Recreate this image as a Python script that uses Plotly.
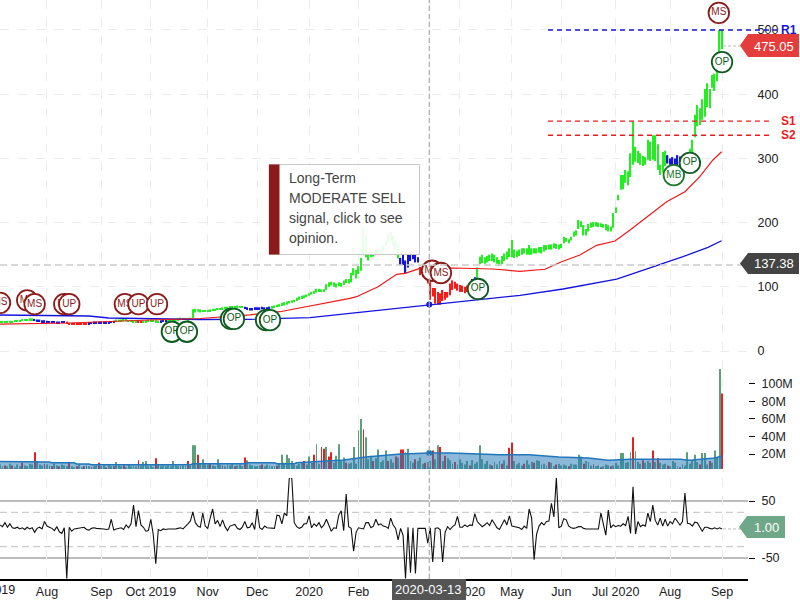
import plotly.graph_objects as go

# ---------- data ----------
hi = [46,46,46,47,47,47,48,48,48,49,49,50,51,51,50,49,49,48,48,
      47,46,46,46,46,46,46,46,46,44,44,44,44,44,44,44,44,45,45,46,46,46,
      46,46,46,46,46,47,49,49,49,49,49,48,48,48,48,48,47,47,48,49,
      49,48,48,47,48,49,49,50,50,50,50,51,52,51,51,51,52,65,66,65,65,64,64,
      64,65,66,66,67,67,68,69,69,70,70,70,71,70,70,69,68,67,67,68,
      68,68,69,68,68,69,70,71,72,73,75,76,77,78,79,80,83,85,86,87,88,
      90,92,94,97,97,96,96,104,107,108,107,105,107,106,110,112,112,122,129,126,132,
      145,192,180,152,150,152,158,158,158,164,172,183,186,180,172,165,145,150,141,
      150,152,150,150,146,131,128,126,122,108,98,98,92,90,95,92,92,105,110,108,105,103,
      102,100,102,105,112,115,130,147,150,146,148,150,152,150,146,142,148,152,155,160,173,
      158,156,158,160,160,160,165,160,160,160,162,162,165,165,166,166,168,167,166,167,
      178,176,174,178,186,188,204,202,196,190,198,200,201,201,200,199,198,198,196,194,215,224,
      243,274,274,282,280,308,358,318,312,308,304,302,329,326,336,336,322,290,310,312,305,300,
      302,300,305,303,303,303,308,315,329,368,383,378,392,408,417,408,430,432,447,500,500]
lo = [44,44,44,45,45,45,46,46,46,47,47,48,48,48,47,46,46,45,45,
      44,44,44,44,43,43,44,44,43,41,41,41,41,41,41,41,42,42,43,43,43,43,
      43,43,43,43,44,45,46,46,46,47,47,46,46,45,45,45,44,45,45,46,
      46,46,45,45,45,46,46,47,47,47,47,48,49,49,49,48,49,51,60,61,60,61,61,
      61,62,63,63,64,64,65,66,66,67,67,67,68,67,67,66,64,63,63,64,
      64,64,65,64,65,65,66,67,68,69,70,71,72,74,75,76,78,80,81,82,84,
      86,88,89,91,92,92,92,95,100,102,100,99,101,100,103,106,105,107,118,113,120,
      125,150,146,141,146,147,150,150,152,155,164,169,172,165,158,144,134,134,121,
      130,140,143,138,138,118,115,112,105,80,85,74,72,72,78,80,83,87,95,97,94,92,
      92,90,92,96,100,104,112,135,137,136,138,140,140,138,136,133,135,140,143,146,146,
      145,146,148,150,152,150,150,150,152,152,153,152,155,157,158,158,160,159,158,160,
      168,170,168,172,178,180,190,193,180,180,186,192,193,194,193,193,192,188,186,186,192,215,
      235,251,252,262,258,271,290,295,293,290,288,290,298,296,298,296,282,274,278,288,292,290,
      288,285,288,290,285,292,293,296,300,333,350,352,360,365,380,378,410,405,420,440,470]
blue_spans = [(14,26),(36,46),(65,67),(99,109),(162,169),(190,192),(270,276)]
red_spans = [(27,35),(56,57),(170,189)]

ma_long_idx = [0,14,36,44,63,81,101,125.4,141.5,169.8,174.7,194.1,210.3,227.7,249.4,257.5,268.1,276.2,286.3,291.8]
ma_long = [56.1,55.3,54.5,51.4,49.8,49.1,49.4,51.9,58.7,70.1,72.4,79.4,86.8,96.6,112.1,122.6,136.6,146.9,161.5,171.8]
ma_mid_idx = [0,28,61,81,101.1,113.2,141.5,144.2,152.9,160.4,163.8,169.8,183.2,199.4,210.3,220.4,227.1,234.5,241.3,248.7,254.8,264.2,269.6,277,283,288.3,291.8]
ma_mid = [42,43.6,48.3,50.6,56.4,61.2,82.1,84.6,100.1,119.4,121,128.8,129.3,127.7,124.1,127.3,139.1,149.5,164.6,171.3,188.5,217,232.6,248.1,271.5,297.5,310.4]

volume = [8,6,7,6,9,7,5,8,6,10,7,6,9,8,22,12,8,7,9,
          8,7,6,9,7,6,8,7,6,10,6,5,6,8,5,6,7,6,5,6,7,10,
          6,7,5,8,6,6,11,7,6,7,5,8,6,7,6,13,7,11,12,6,
          7,5,15,8,6,7,6,7,6,12,7,6,6,7,6,12,7,30,30,19,9,14,8,
          8,9,7,6,14,8,7,6,8,7,9,6,7,8,6,16,13,8,7,6,
          6,7,8,6,8,7,6,6,7,9,19,10,19,15,12,8,7,9,10,12,8,
          17,10,19,31,9,28,26,28,17,22,10,18,31,12,16,10,9,10,28,9,47,
          60,48,39,14,18,12,15,25,11,13,24,12,14,10,17,16,25,25,22,
          26,12,10,14,12,16,9,10,11,12,24,14,30,28,12,18,15,13,9,11,8,14,
          10,8,12,7,13,9,11,30,14,9,12,8,7,11,8,12,9,13,7,27,33,
          12,8,10,7,9,13,8,11,10,13,12,8,9,7,11,10,6,8,9,7,
          8,7,6,9,8,8,19,17,9,12,11,7,8,6,7,5,6,8,7,6,7,10,
          7,21,21,10,11,22,39,23,11,9,13,10,12,10,24,11,15,10,8,9,7,6,
          12,10,6,5,8,7,22,9,13,19,11,8,21,21,8,12,10,24,16,117,89]
volume_red_idx = [2,5,9,14,18,21,24,28,31,34,37,40,43,46,50,56,63,76,80,85,90,95,99,
                  106,112,123,127,130,131,133,134,140,147,151,157,160,162,163,168,172,175,178,180,
                  184,190,199,203,206,207,212,216,222,225,230,236,240,243,247,256,260,264,266,270,
                  275,283,287,292]
vol_ma_idx = [0,5,6,20,21,30,31,36,37,77,78,99,100,111,112,119,120,129,139,148,154,162,174,182,194,202,214,226,238,246,255,275,279,289,292]
vol_ma = [11.4,11.4,10.8,10.8,10,10,8.6,8.6,7.7,7.7,8.8,8.8,10,10,8.8,8.8,10,11.4,13.1,16.6,18.3,20,21.1,21.1,20,19,19,16.6,15.4,13,14,14,13,15.4,17.7]

osc = [8,5,12,4,10,3,2,4,1,3,0,4,1,3,-5,2,4,1,14,
       6,4,2,-2,5,-4,-7,3,-86,4,-3,1,2,2,3,4,0,-1,2,3,2,2,
       1,1,0,1,18,-1,1,2,3,0,8,3,10,43,5,33,8,4,-3,-2,
       18,-10,-60,0,-2,1,0,1,1,0,1,2,3,1,5,10,15,31,12,6,4,29,6,
       2,20,36,10,16,5,17,5,-2,6,8,9,2,0,4,14,3,4,12,0,
       36,3,0,6,3,3,2,2,25,24,10,29,24,91,91,12,5,2,4,10,10,
       24,3,10,6,12,3,8,18,8,-3,3,2,25,33,-2,62,5,2,-38,-5,3,
       2,1,12,12,3,6,18,8,10,6,5,2,20,8,2,-18,2,-10,-86,
       4,-76,3,-77,2,2,2,2,-24,3,-57,2,3,0,-57,-5,5,0,5,8,23,4,
       4,8,5,8,7,28,14,10,5,8,12,7,17,10,3,0,8,17,8,24,6,
       5,5,3,0,6,2,36,20,-53,-8,6,12,8,14,15,46,22,91,3,6,
       19,17,6,3,2,3,5,5,2,1,1,1,1,0,1,29,6,-10,34,3,8,5,
       7,6,10,7,23,-7,75,-8,14,5,8,6,29,14,43,16,8,20,6,18,6,14,
       10,20,14,8,14,64,11,10,6,13,12,3,-3,4,4,2,1,3,1,3,1]

tick_idx = [19,41,61,84,104,125,145,186,207,227,249,271,292]
tick_txt = ["Aug","Sep","Oct 2019","Nov","Dec","2020","Feb","Apr 2020","May","Jun","Jul 2020","Aug","Sep"]
price_ticks = [0,100,200,300,400,500]
vol_ticks = [20,40,60,80,100]
vol_tick_txt = ["20M","40M","60M","80M","100M"]
osc_ticks = [50,-50]
osc_tick_txt = ["50","-50"]

signals = [("MS",0,75),("MS",11,79),("MS",14,73),("UP",26,73),("UP",28,73),("MS",50.5,73),("UP",56,73),("UP",63.5,73),
           ("OP",69.5,30),("OP",75.6,30),("OP",93.4,50),("OP",94.6,50),("OP",107.6,48),("OP",109.2,48),
           ("MS",174.7,125),("MS",178.3,121.5),("OP",193.3,96.6),("MB",272.5,274),("OP",279,293),("OP",292,450),("MS",290.7,526.5)]
levels = [("R1",500,"#1414e0",548),("S1",358,"#ee1c1c",548),("S2",336,"#ee1c1c",548)]
last_price = 475.05
cross_price = 137.38
cross_idx = 173.6
cross_date = "2020-03-13"
last_osc = 1.00

assert len(hi) == len(lo) == len(volume) == len(osc) == 293
idx = list(range(293))

# ---------- geometry helpers (page pixels -> paper) ----------
PW, PH = 748.0, 579.0
def px(x): return x / PW
def py(y): return (PH - y) / PH

state = ["g"] * 293
for a, b in blue_spans:
    for i in range(a, b + 1): state[i] = "b"
for a, b in red_spans:
    for i in range(a, b + 1): state[i] = "r"

fig = go.Figure()
for key, col in (("g", "#22ee22"), ("b", "#1414e0"), ("r", "#f51c1c")):
    ii = [i for i in idx if state[i] == key]
    fig.add_trace(go.Bar(x=ii, base=[lo[i] for i in ii], y=[hi[i] - lo[i] for i in ii],
                         width=0.52, marker=dict(color=col, line=dict(width=0)),
                         xaxis="x", yaxis="y", showlegend=False))
fig.add_trace(go.Scatter(x=ma_long_idx, y=ma_long, mode="lines", line=dict(color="#1414e0", width=1.3),
                         xaxis="x", yaxis="y", showlegend=False))
fig.add_trace(go.Scatter(x=ma_mid_idx, y=ma_mid, mode="lines", line=dict(color="#f01818", width=1.2),
                         xaxis="x", yaxis="y", showlegend=False))
fig.add_trace(go.Scatter(x=[cross_idx], y=[72.4], mode="markers", marker=dict(color="#1414e0", size=6),
                         xaxis="x", yaxis="y", showlegend=False))

SIG = {"MS": ("#8b1a1a", "#8b1a1a"), "UP": ("#8b1a1a", "#8b1a1a"), "OP": ("#0f5a20", "#0f5a20"), "MB": ("#1a7a2a", "#1a7a2a")}
for name, sx, sy in signals:
    line_c, txt_c = SIG[name]
    fig.add_trace(go.Scatter(x=[sx], y=[sy], mode="markers+text", text=[name], textposition="middle center",
                             textfont=dict(family="Liberation Sans", size=10, color=txt_c),
                             marker=dict(size=20.5, color="white", line=dict(color=line_c, width=1.8)),
                             xaxis="x", yaxis="y", showlegend=False))

# volume
vol_col = ["#e52020" if i in volume_red_idx else "#5aa07a" for i in idx]
fig.add_trace(go.Bar(x=idx, y=volume, width=0.36, marker=dict(color=vol_col, line=dict(width=0)),
                     xaxis="x2", yaxis="y2", showlegend=False))
fig.add_trace(go.Scatter(x=vol_ma_idx, y=vol_ma, mode="lines", fill="tozeroy", fillcolor="rgba(45,125,185,0.55)",
                         line=dict(color="#2277bb", width=1.5), xaxis="x2", yaxis="y2", showlegend=False))
fig.add_trace(go.Scatter(x=[cross_idx], y=[21], mode="markers", marker=dict(color="#2277bb", size=6),
                         xaxis="x2", yaxis="y2", showlegend=False))

# oscillator
fig.add_trace(go.Scatter(x=idx, y=osc, mode="lines", line=dict(color="#111", width=1.1),
                         xaxis="x3", yaxis="y3", showlegend=False))

FONT = dict(family="Liberation Sans", size=12, color="#222")
xcommon = dict(range=[0, 302.5], tickmode="array", tickvals=tick_idx + [cross_idx], showgrid=True, gridcolor="#ececec",
               griddash="dash", gridwidth=1, zeroline=False, ticks="")
fig.update_layout(
    width=800, height=600, autosize=False, margin=dict(l=0, r=52, t=0, b=21, pad=0),
    paper_bgcolor="white", plot_bgcolor="white", barmode="overlay", font=FONT, hovermode=False,
    xaxis=dict(domain=[0, 1], anchor="y", showticklabels=False, **xcommon),
    xaxis2=dict(domain=[0, 1], anchor="y2", showticklabels=False, **xcommon),
    xaxis3=dict(domain=[0, 1], anchor="y3", showticklabels=True,
                ticktext=tick_txt + [""], showline=True, linecolor="#000", linewidth=1.5, tickfont=dict(size=12.5), **xcommon),
    yaxis=dict(domain=[py(360), 1], anchor="x", side="right", range=[-14, 546.7], tickmode="array", tickvals=price_ticks,
               showgrid=True, gridcolor="#ececec", griddash="dash", zeroline=False, ticks="outside", ticklen=6,
               tickcolor="rgba(0,0,0,0)", showline=False, tickfont=dict(size=12.5)),
    yaxis2=dict(domain=[py(469), py(360)], anchor="x2", side="right", range=[2.86, 127.4], tickmode="array", tickvals=vol_ticks,
                ticktext=vol_tick_txt, showgrid=False, zeroline=False, ticks="outside", ticklen=6, tickcolor="#000",
                ticklabelstandoff=4, showline=False, tickfont=dict(size=12.5)),
    yaxis3=dict(domain=[0, py(478)], anchor="x3", side="right", range=[-86.8, 90.35], tickmode="array", tickvals=osc_ticks,
                ticktext=osc_tick_txt, showgrid=False, zeroline=False, ticks="outside", ticklen=6, tickcolor="#000",
                ticklabelstandoff=4, showline=False, tickfont=dict(size=12.5)),
)

shapes, annos = [], []
def text(x, y, s, color="#222", size=13, bold=False, anchor="left"):
    annos.append(dict(xref="paper", yref="paper", x=px(x), y=py(y), text=f"<b>{s}</b>" if bold else s, showarrow=False,
                      xanchor=anchor, yanchor="middle", font=dict(family="Liberation Sans", size=size, color=color)))

# oscillator guides
for v, dash, col, w in ((50, "solid", "#bdbdbd", 2), (-50, "solid", "#bdbdbd", 2), (30, "7px,4px", "#cccccc", 1.2), (-30, "7px,4px", "#cccccc", 1.2)):
    shapes.append(dict(type="line", xref="paper", yref="y3", x0=0, x1=1, y0=v, y1=v, layer="below", line=dict(color=col, width=w, dash=dash)))
# support / resistance
for name, val, col, start in levels:
    end = 777 if name == "R1" else 770
    shapes.append(dict(type="line", xref="paper", yref="y", x0=px(start), x1=px(end), y0=val, y1=val, layer="above",
                       line=dict(color=col, width=1.4, dash="5px,4px")))
    annos.append(dict(xref="paper", yref="y", x=px(779), y=val, text=f"<b>{name}</b>", showarrow=False, xanchor="left",
                      yanchor="middle", font=dict(family="Liberation Sans", size=12, color=col)))
# crosshair
shapes.append(dict(type="line", xref="x", yref="paper", x0=cross_idx, x1=cross_idx, y0=0, y1=1, layer="above",
                   line=dict(color="#aaaaaa", width=1.2, dash="5px,3px")))
shapes.append(dict(type="line", xref="paper", yref="paper", x0=0, x1=px(741), y0=py(265), y1=py(265), layer="above",
                   line=dict(color="#cccccc", width=1.5, dash="7px,4px")))
# last value guides
shapes.append(dict(type="line", xref="paper", yref="y", x0=px(723), x1=px(741), y0=last_price, y1=last_price, layer="above",
                   line=dict(color="#bbbbbb", width=1, dash="3px,2px")))
shapes.append(dict(type="line", xref="paper", yref="y3", x0=px(723), x1=px(741), y0=last_osc, y1=last_osc, layer="above",
                   line=dict(color="#bbbbbb", width=1, dash="3px,2px")))

def tag(tip, x0, x1, y0, y1, col):
    ym = (y0 + y1) / 2
    path = f"M {px(tip)} {py(ym)} L {px(x0)} {py(y0)} L {px(x1)} {py(y0)} L {px(x1)} {py(y1)} L {px(x0)} {py(y1)} Z"
    shapes.append(dict(type="path", xref="paper", yref="paper", path=path, fillcolor=col, line=dict(width=0), layer="above"))

tag(740, 748, 799, 34, 57, "#e53c3c")
text(773.5, 46, f"{last_price:.2f}", "white", 13, anchor="center")
tag(740, 748, 799, 253, 274, "#444444")
text(773.5, 263, f"{cross_price:.2f}", "white", 13, anchor="center")
tag(739, 747, 785, 516, 538, "#6fa888")
text(766, 527, f"{last_osc:.2f}", "white", 13, anchor="center")

# clipped first axis label
text(-9, 589.5, "Jul 2019", "#222", 12.5, anchor="center")

# date tag
shapes.append(dict(type="rect", xref="paper", yref="paper", x0=px(392), x1=px(466), y0=py(579), y1=-21 / PH,
                   fillcolor="#555555", line=dict(width=0), layer="above"))
text(429, 589, cross_date, "white", 13, anchor="center")

# opinion box
shapes.append(dict(type="rect", xref="paper", yref="paper", x0=px(269), x1=px(419.5), y0=py(254.5), y1=py(164.5),
                   fillcolor="rgba(255,255,255,0.9)", line=dict(color="#c8c8c8", width=1), layer="above"))
shapes.append(dict(type="rect", xref="paper", yref="paper", x0=px(269), x1=px(279.5), y0=py(254.5), y1=py(164.5),
                   fillcolor="#8b1a1a", line=dict(width=0), layer="above"))
for y, s in zip((178, 198, 218, 238), ("Long-Term", "MODERATE SELL", "signal, click to see", "opinion.")):
    text(286.5, y, s, "#444", 14)

fig.update_layout(shapes=shapes, annotations=annos)
fig.write_html("out.html", config={"displayModeBar": False},
               post_script="document.body.style.margin='0';document.body.style.overflow='hidden';")
